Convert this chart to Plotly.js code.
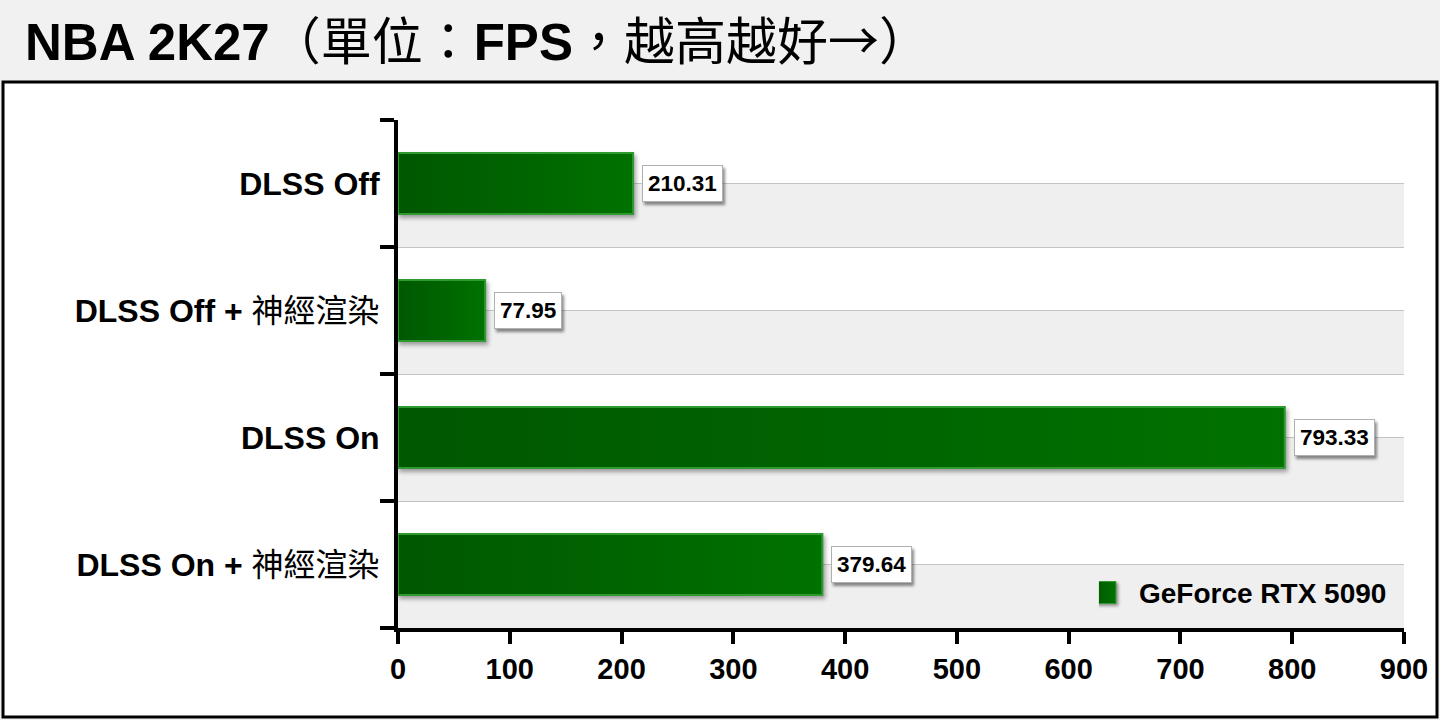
<!DOCTYPE html>
<html>
<head>
<meta charset="utf-8">
<script src="https://cdn.plot.ly/plotly-3.0.1.min.js"></script>
<style>
  html, body { margin: 0; padding: 0; background: #f1f1f1; }
  #chart { width: 1440px; height: 720px; }
  .annotation rect.bg { filter: drop-shadow(2px 3px 1.5px rgba(0,0,0,0.45)); }
  .trace.bars .point path { filter: drop-shadow(2px 3px 2px rgba(0,0,0,0.35)); }
</style>
</head>
<body>
<div id="chart"></div>
<script>
// ---- data ----
const categories = ['DLSS Off', 'DLSS Off + 神經渲染', 'DLSS On', 'DLSS On + 神經渲染'];
const tickLabels = ['<b>DLSS Off</b>', '<b>DLSS Off +</b> 神經渲染', '<b>DLSS On</b>', '<b>DLSS On +</b> 神經渲染'];
const fpsValues = [210.31, 77.95, 793.33, 379.64];
const seriesName = 'GeForce RTX 5090';
const xTicks = [0, 100, 200, 300, 400, 500, 600, 700, 800, 900];
const chartTitle = '<b>NBA 2K27</b>（單位：<b>FPS</b>，越高越好<span style="font-family:Noto Sans CJK TC">→</span>）';

const FONT = 'Liberation Sans, Arial, Noto Sans CJK TC, sans-serif';

// plot area geometry (px)
const L = 398, R = 1404, T = 120, B = 628, W = 1440, H = 720;
const px2x = v => (v - L) / (R - L);
const px2y = v => (B - v) / (B - T);

const shapes = [];
// white framed box
shapes.push({type: 'rect', xref: 'paper', yref: 'paper', layer: 'below',
  x0: px2x(3), x1: px2x(1437), y0: px2y(717), y1: px2y(82),
  fillcolor: '#ffffff', line: {color: '#000000', width: 3}});
// stripes + center lines
categories.forEach((c, i) => {
  shapes.push({type: 'rect', xref: 'paper', yref: 'y', layer: 'below',
    x0: 0, x1: 1, y0: i, y1: i + 0.5, fillcolor: '#efefef', line: {width: 0}});
  shapes.push({type: 'line', xref: 'paper', yref: 'y', layer: 'below',
    x0: 0, x1: 1, y0: i, y1: i, line: {color: '#c4c4c4', width: 1}});
});

const annotations = categories.map((c, i) => ({
  x: fpsValues[i], y: c, xref: 'x', yref: 'y',
  text: '<b>' + fpsValues[i].toFixed(2) + '</b>',
  showarrow: false, xanchor: 'left', yanchor: 'middle', xshift: 9,
  bgcolor: '#ffffff', bordercolor: '#b0b0b0', borderwidth: 1, borderpad: 5,
  font: {family: FONT, size: 22.5, color: '#000000'}
}));

const trace = {
  type: 'bar', orientation: 'h',
  x: fpsValues, y: categories, name: seriesName,
  width: 0.48,
  marker: {color: '#006600', line: {color: '#2f9a2f', width: 2}},
  hoverinfo: 'none', showlegend: true
};

const layout = {
  width: W, height: H,
  paper_bgcolor: '#f1f1f1', plot_bgcolor: 'rgba(0,0,0,0)',
  margin: {l: L, r: W - R, t: T, b: H - B, pad: 0},
  font: {family: FONT, color: '#000000'},
  title: {text: chartTitle, x: 25 / W, xanchor: 'left', xref: 'container',
    y: 1 - 42 / H, yanchor: 'middle', yref: 'container',
    font: {family: FONT, size: 51, color: '#000000'}},
  xaxis: {range: [0, 900], tickmode: 'array', tickvals: xTicks,
    ticktext: xTicks.map(String), showgrid: false, zeroline: false,
    showline: true, linecolor: '#000000', linewidth: 4,
    ticks: 'outside', ticklen: 12, tickwidth: 4, tickcolor: '#000000',
    tickfont: {family: FONT, size: 29, weight: 700, color: '#000000'}, fixedrange: true},
  yaxis: {type: 'category', range: [3.5, -0.5], tickson: 'boundaries',
    tickmode: 'array', tickvals: categories, ticktext: tickLabels,
    showgrid: true, gridcolor: '#c4c4c4', gridwidth: 1, zeroline: false,
    showline: true, linecolor: '#000000', linewidth: 4,
    ticks: 'outside', ticklen: 14, tickwidth: 4, tickcolor: '#000000',
    ticklabelstandoff: 8,
    tickfont: {family: FONT, size: 32, color: '#000000'}, fixedrange: true},
  showlegend: true,
  legend: {x: 0.988, xanchor: 'right', y: 0.02, yanchor: 'bottom',
    bgcolor: 'rgba(0,0,0,0)', borderwidth: 0,
    font: {family: FONT, size: 28, weight: 700, color: '#000000'}},
  shapes: shapes,
  annotations: annotations
};

Plotly.newPlot('chart', [trace], layout, {staticPlot: true, displayModeBar: false}).then(() => {
  const svg = document.querySelector('#chart .main-svg');
  const defs = svg.querySelector('defs');
  const NS = 'http://www.w3.org/2000/svg';
  const grad = document.createElementNS(NS, 'linearGradient');
  grad.setAttribute('id', 'barGrad');
  grad.setAttribute('x1', '0'); grad.setAttribute('y1', '0');
  grad.setAttribute('x2', '1'); grad.setAttribute('y2', '0');
  [['0', '#005800'], ['0.5', '#006400'], ['1', '#007200']].forEach(([o, c]) => {
    const s = document.createElementNS(NS, 'stop');
    s.setAttribute('offset', o); s.setAttribute('stop-color', c);
    grad.appendChild(s);
  });
  defs.appendChild(grad);
  document.querySelectorAll('#chart .trace.bars .point path').forEach(p => {
    p.style.fill = 'url(#barGrad)';
  });
  document.querySelectorAll('#chart .legend .legendpoints path').forEach(p => {
    p.setAttribute('d', 'M11,11H-11V-11H11Z');
    p.setAttribute('transform', 'translate(6,0)');
    p.style.fill = 'url(#barGrad)';
    p.style.strokeWidth = '1px';
    p.style.filter = 'drop-shadow(2px 2px 1.5px rgba(0,0,0,0.4))';
  });
});
</script>
</body>
</html>
